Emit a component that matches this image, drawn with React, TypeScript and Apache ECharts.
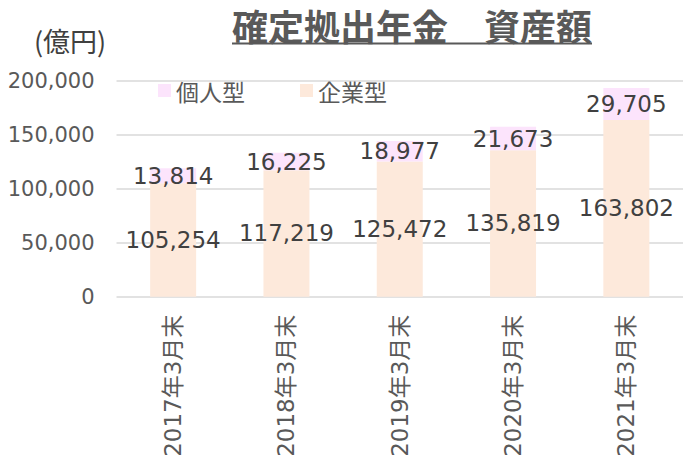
import React, { useEffect, useRef } from "react";
import * as echarts from "echarts";

const categories = ["2017年3月末", "2018年3月末", "2019年3月末", "2020年3月末", "2021年3月末"];
const corporate = [105254, 117219, 125472, 135819, 163802];
const individual = [13814, 16225, 18977, 21673, 29705];
const seriesNames = ["個人型", "企業型"];
const titleText = "確定拠出年金　資産額";
const unitText = "(億円)";

const fmt = (v: number) => v.toLocaleString("en-US");

export default function App() {
  const ref = useRef<HTMLDivElement>(null);
  useEffect(() => {
    document.body.style.margin = "0";
    const chart = echarts.init(ref.current!, null, { renderer: "svg" });
    const cjk = "'Noto Sans CJK JP', sans-serif";
    const num = "'DejaVu Sans', 'Noto Sans CJK JP', sans-serif";
    chart.setOption({
      animation: false,
      backgroundColor: "#ffffff",
      graphic: [
        {
          type: "text",
          x: 412,
          y: 25,
          style: {
            text: titleText,
            font: `bold 36px ${cjk}`,
            fill: "#595959",
            textAlign: "center",
            textVerticalAlign: "middle",
          },
        },
        {
          type: "line",
          shape: { x1: 232, y1: 43.5, x2: 592, y2: 43.5 },
          style: { stroke: "#595959", lineWidth: 2 },
        },
        {
          type: "text",
          x: 70,
          y: 40,
          style: {
            text: unitText,
            font: `27px ${cjk}`,
            fill: "#404040",
            textAlign: "center",
            textVerticalAlign: "middle",
          },
        },
      ],
      legend: {
        data: seriesNames,
        left: 153,
        top: 74,
        itemWidth: 13,
        itemHeight: 13,
        itemGap: 55,
        icon: "rect",
        textStyle: { fontSize: 23, color: "#595959", fontFamily: cjk },
      },
      grid: { left: 116.5, top: 81, width: 575, height: 215.7 },
      xAxis: {
        type: "category",
        data: categories,
        axisLine: { show: false },
        axisTick: { show: false },
        axisLabel: {
          rotate: 90,
          fontSize: 23,
          color: "#595959",
          fontFamily: num,
          margin: 18,
        },
      },
      yAxis: {
        type: "value",
        min: 0,
        max: 200000,
        interval: 50000,
        axisLine: { show: false },
        axisTick: { show: false },
        axisLabel: {
          fontSize: 21,
          color: "#595959",
          fontFamily: num,
          margin: 22,
          formatter: (v: number) => fmt(v),
        },
        splitLine: { lineStyle: { color: "#D9D9D9", width: 1.5 } },
      },
      series: [
        {
          name: "企業型",
          type: "bar",
          stack: "total",
          barWidth: 46,
          data: corporate,
          itemStyle: { color: "#FDE9DB" },
          label: {
            show: true,
            position: "inside",
            fontSize: 23,
            color: "#404040",
            fontFamily: num,
            formatter: (p: any) => fmt(p.value),
          },
        },
        {
          name: "個人型",
          type: "bar",
          stack: "total",
          barWidth: 46,
          data: individual,
          itemStyle: { color: "#FCE4FC" },
          label: {
            show: true,
            position: "inside",
            fontSize: 23,
            color: "#404040",
            fontFamily: num,
            formatter: (p: any) => fmt(p.value),
          },
        },
      ],
    });
    return () => chart.dispose();
  }, []);
  return <div ref={ref} style={{ width: 683, height: 462 }} />;
}
